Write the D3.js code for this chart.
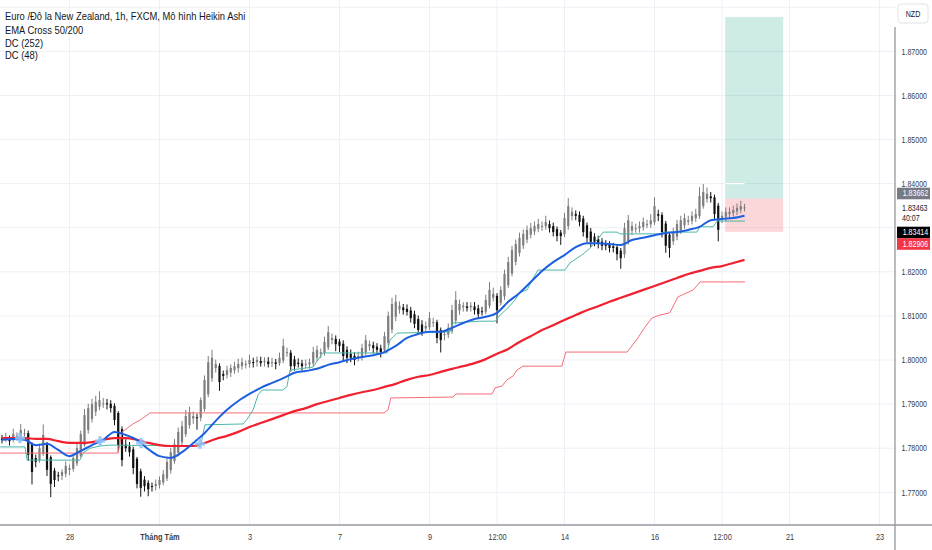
<!DOCTYPE html>
<html>
<head>
<meta charset="utf-8">
<script src="https://cdn.jsdelivr.net/npm/d3@7"></script>
<style>
  body { margin: 0; background: #fff; }
  svg { display: block; font-family: "Liberation Sans", Arial, sans-serif; }
</style>
</head>
<body>
<script>
// Heikin Ashi closes, 2h steps from Jul 26 12:00 (day 0 = Jul 28, trading days only)
const closes = [
  1.7819, 1.7825, 1.7816, 1.7832, 1.7828, 1.7841, 1.7834, 1.7785, 1.7746, 1.7769,
  1.7800, 1.7830, 1.7751, 1.7719, 1.7728, 1.7737, 1.7746, 1.7760, 1.7755, 1.7778,
  1.7800, 1.7832, 1.7875, 1.7891, 1.7900, 1.7905, 1.7909, 1.7902, 1.7900, 1.7891,
  1.7864, 1.7807, 1.7773, 1.7800, 1.7791, 1.7755, 1.7719, 1.7710, 1.7714, 1.7707,
  1.7714, 1.7719, 1.7728, 1.7741, 1.7769, 1.7791, 1.7809, 1.7837, 1.7850, 1.7873,
  1.7882, 1.7873, 1.7868, 1.7909, 1.7955, 1.7995, 1.8005, 1.7991, 1.7950, 1.7964,
  1.7977, 1.7982, 1.7986, 1.7991, 1.7995, 1.7991, 1.8000, 1.7995, 1.8000, 1.7993,
  1.7998, 1.7991, 1.7995, 1.7991, 1.8005, 1.8032, 1.8018, 1.7986, 1.7986, 1.7991,
  1.7986, 1.7991, 1.7995, 1.8018, 1.8023, 1.8018, 1.8041, 1.8063, 1.8050, 1.8036,
  1.8032, 1.8009, 1.8005, 1.8005, 1.8000, 1.8009, 1.8027, 1.8045, 1.8036, 1.8027,
  1.8023, 1.8018, 1.8054, 1.8100, 1.8127, 1.8132, 1.8123, 1.8113, 1.8109, 1.8095,
  1.8082, 1.8068, 1.8063, 1.8077, 1.8095, 1.8086, 1.8050, 1.8045, 1.8059, 1.8073,
  1.8113, 1.8136, 1.8127, 1.8123, 1.8118, 1.8123, 1.8113, 1.8104, 1.8109, 1.8136,
  1.8159, 1.8150, 1.8113, 1.8159, 1.8195, 1.8222, 1.8249, 1.8263, 1.8277, 1.8286,
  1.8295, 1.8299, 1.8304, 1.8308, 1.8304, 1.8313, 1.8299, 1.8290, 1.8281, 1.8281,
  1.8322, 1.8349, 1.8336, 1.8327, 1.8313, 1.8290, 1.8277, 1.8268, 1.8268, 1.8263,
  1.8259, 1.8259, 1.8254, 1.8254, 1.8240, 1.8231, 1.8299, 1.8317, 1.8304, 1.8299,
  1.8304, 1.8313, 1.8308, 1.8317, 1.8349, 1.8327, 1.8290, 1.8259, 1.8254, 1.8290,
  1.8308, 1.8317, 1.8322, 1.8317, 1.8327, 1.8331, 1.8372, 1.8381, 1.8377, 1.8367,
  1.8331, 1.8295, 1.8327, 1.8336, 1.8336, 1.8340, 1.8345, 1.8349, 1.8346
];
// wick beyond body, in pips
const wickHi = [
  8, 10, 6, 12, 8, 14, 10, 6, 4, 8,  10, 24, 6, 4, 6, 8, 6, 10, 8, 10,
  10, 8, 14, 10, 12, 14, 20, 12, 10, 8,  6, 4, 6, 12, 10, 6, 4, 6, 8, 6,
  8, 10, 8, 10, 12, 10, 12, 10, 12, 14,  12, 10, 8, 6, 10, 14, 18, 10, 6, 8,
  10, 8, 10, 12, 10, 8, 12, 10, 8, 10,  8, 10, 10, 8, 12, 16, 10, 6, 8, 10,
  8, 10, 8, 12, 10, 8, 12, 14, 10, 8,  6, 8, 8, 10, 8, 10, 10, 12, 8, 8,
  8, 8, 10, 10, 14, 16, 10, 8, 10, 8,  8, 8, 10, 10, 14, 10, 6, 6, 8, 10,
  12, 20, 10, 8, 10, 8, 10, 8, 10, 12,  18, 14, 6, 8, 10, 12, 10, 10, 12, 10,
  10, 12, 10, 12, 10, 14, 8, 8, 6, 6,  12, 18, 10, 8, 8, 6, 6, 8, 8, 8,
  8, 8, 8, 8, 6, 6, 12, 12, 10, 10,  10, 10, 10, 14, 20, 10, 6, 6, 6, 10,
  10, 10, 10, 10, 10, 12, 20, 18, 14, 10,  6, 6, 10, 10, 10, 10, 10, 12, 8
];
const wickLo = [
  8, 6, 10, 6, 8, 6, 8, 14, 28, 12,  6, 4, 14, 30, 16, 12, 10, 8, 12, 6,
  6, 4, 4, 8, 8, 10, 8, 10, 12, 10,  12, 16, 14, 8, 10, 14, 10, 20, 12, 16,
  12, 10, 8, 6, 6, 8, 6, 8, 8, 6,  8, 12, 26, 8, 6, 6, 8, 10, 20, 10,
  8, 10, 8, 10, 8, 10, 8, 12, 10, 8,  10, 8, 10, 12, 6, 6, 8, 12, 10, 8,
  10, 8, 10, 6, 8, 10, 6, 6, 10, 16,  14, 10, 12, 10, 12, 8, 8, 6, 10, 12,
  10, 12, 6, 6, 8, 10, 10, 10, 8, 10,  10, 10, 8, 8, 6, 10, 12, 28, 12, 8,
  6, 8, 10, 10, 8, 10, 10, 10, 8, 6,  6, 8, 30, 6, 8, 6, 6, 8, 8, 8,
  8, 8, 8, 8, 10, 8, 10, 10, 12, 20,  6, 8, 10, 10, 10, 10, 10, 12, 10, 10,
  10, 10, 10, 10, 14, 24, 8, 8, 10, 10,  10, 8, 8, 8, 6, 12, 12, 16, 22, 8,
  8, 8, 8, 8, 8, 8, 6, 6, 8, 10,  14, 26, 12, 10, 10, 8, 8, 8, 8
];
const haOpen0 = 1.7822;

// EMA 50 / EMA 200, sampled every 6h
const emaFast = [
  1.7819, 1.7821, 1.7819, 1.7807, 1.7810, 1.7796, 1.7782, 1.7794, 1.7807, 1.7819,
  1.7837, 1.7830, 1.7819, 1.7798, 1.7782, 1.7778, 1.7791, 1.7812, 1.7834, 1.7862,
  1.7887, 1.7907, 1.7923, 1.7937, 1.7948, 1.7959, 1.7971, 1.7975, 1.7980, 1.7989,
  1.7995, 1.8002, 1.8007, 1.8011, 1.8018, 1.8032, 1.8050, 1.8059, 1.8064, 1.8064,
  1.8073, 1.8084, 1.8093, 1.8098, 1.8107, 1.8132, 1.8152, 1.8177, 1.8202, 1.8222,
  1.8238, 1.8256, 1.8265, 1.8265, 1.8263, 1.8261, 1.8272, 1.8277, 1.8283, 1.8288,
  1.8290, 1.8295, 1.8302, 1.8317, 1.8320, 1.8322, 1.8327
];
const emaSlow = [
  1.7823, 1.7823, 1.7823, 1.7821, 1.7821, 1.7816, 1.7812, 1.7812, 1.7814, 1.7819,
  1.7823, 1.7823, 1.7819, 1.7812, 1.7807, 1.7805, 1.7805, 1.7805, 1.7812, 1.7821,
  1.7828, 1.7837, 1.7848, 1.7857, 1.7866, 1.7875, 1.7884, 1.7891, 1.7900, 1.7907,
  1.7914, 1.7921, 1.7927, 1.7932, 1.7939, 1.7946, 1.7955, 1.7962, 1.7966, 1.7973,
  1.7980, 1.7986, 1.7993, 1.8002, 1.8014, 1.8025, 1.8041, 1.8054, 1.8068, 1.8079,
  1.8091, 1.8102, 1.8113, 1.8122, 1.8132, 1.8141, 1.8150, 1.8159, 1.8168, 1.8177,
  1.8186, 1.8195, 1.8202, 1.8209, 1.8213, 1.8220, 1.8227
];

// Donchian lower bands (vertices: trading day, price)
const dc48Day = [-1.54, -0.99, -0.94, 0.23, 0.32, 0.46, 0.68, 0.90, 2.90, 2.94, 3.01, 3.86, 3.97,
  4.08, 4.19, 4.28, 4.74, 4.83, 4.90, 5.41, 5.52, 5.63, 7.06, 7.12, 7.28, 8.46, 8.52, 9.12, 9.46,
  9.57, 9.74, 9.90, 10.01, 10.17, 10.28, 10.41, 11.01, 11.12, 11.41, 11.57, 11.72, 11.86, 12.17,
  12.23, 13.12, 13.21, 13.94, 14.01, 14.30, 14.39, 15.01];
const dc48Val = [1.7803, 1.7803, 1.7773, 1.7773, 1.7791, 1.7800, 1.7805, 1.7807, 1.7805, 1.7819,
  1.7853, 1.7855, 1.7869, 1.7887, 1.7921, 1.7932, 1.7932, 1.7939, 1.7977, 1.7984, 1.8000, 1.8016,
  1.8016, 1.8045, 1.8061, 1.8064, 1.8084, 1.8088, 1.8088, 1.8102, 1.8118, 1.8136, 1.8154, 1.8159,
  1.8181, 1.8204, 1.8204, 1.8220, 1.8240, 1.8254, 1.8272, 1.8290, 1.8290, 1.8286, 1.8286, 1.8290,
  1.8290, 1.8302, 1.8302, 1.8315, 1.8315];
const dc252Day = [-1.54, 1.08, 1.17, 1.41, 1.57, 1.79, 6.99, 7.08, 7.14, 8.52, 8.59, 9.39, 9.46,
  9.61, 9.72, 9.86, 9.94, 10.08, 10.94, 11.03, 12.39, 12.50, 12.63, 12.79, 12.94, 13.12, 13.34,
  13.43, 13.52, 13.86, 13.94, 14.01, 15.01];
const dc252Val = [1.7789, 1.7789, 1.7837, 1.7855, 1.7864, 1.7880, 1.7880, 1.7887, 1.7914, 1.7916,
  1.7923, 1.7923, 1.7937, 1.7941, 1.7955, 1.7964, 1.7977, 1.7986, 1.7986, 1.8018, 1.8018, 1.8032,
  1.8050, 1.8075, 1.8095, 1.8102, 1.8107, 1.8125, 1.8143, 1.8159, 1.8168, 1.8177, 1.8177];

// EMA cross markers
const crossDay = [-1.1, 0.68, 1.59, 2.9];
const crossVal = [1.7823, 1.7816, 1.7812, 1.7810];

// long position tool
const posDays = [14.57, 15.86];
const posTarget = 1.8778, posEntry = 1.83662, posStop = 1.82906;

// axes
const gridTicks = [1.77, 1.78, 1.79, 1.80, 1.81, 1.82, 1.83, 1.84, 1.85, 1.86, 1.87, 1.88];
const priceTicks = [1.77, 1.78, 1.79, 1.80, 1.81, 1.82, 1.84, 1.85, 1.86, 1.87];
const dayTicks = [0, 2, 4, 6, 8, 9.5, 11, 13, 14.5, 16, 18];
const dayLabels = ["28", "Tháng Tám", "3", "7", "9", "12:00", "14", "16", "12:00", "21", "23"];
const legendLines = ["Euro /Đô la New Zealand, 1h, FXCM, Mô hình Heikin Ashi", "EMA Cross 50/200", "DC (252)", "DC (48)"];

const W = 932, H = 550;
const PLOT = { R: 895, B: 525 };
const CANDLE_START = -1.5, CANDLE_STEP = 1 / 12, LINE_STEP = 0.25;

const svg = d3.select("body").append("svg").attr("width", W).attr("height", H);

const x = d3.scaleLinear().domain([-1.5444, 18.3444]).range([0, PLOT.R]);
const y = d3.scaleLinear().domain([1.76259, 1.88163]).range([PLOT.B, 0]);

svg.append("clipPath").attr("id", "plot-clip")
  .append("rect").attr("width", PLOT.R).attr("height", PLOT.B);

const plot = svg.append("g").attr("clip-path", "url(#plot-clip)");

// grid
plot.append("g").selectAll("line").data(gridTicks).join("line")
  .attr("x1", 0).attr("x2", PLOT.R)
  .attr("y1", d => y(d)).attr("y2", d => y(d))
  .attr("stroke", "#edf0f6");
plot.append("g").selectAll("line").data(dayTicks).join("line")
  .attr("x1", d => x(d)).attr("x2", d => x(d))
  .attr("y1", 0).attr("y2", PLOT.B)
  .attr("stroke", "#edf0f6");

// position box
plot.append("rect")
  .attr("x", x(posDays[0])).attr("width", x(posDays[1]) - x(posDays[0]))
  .attr("y", y(posTarget)).attr("height", y(posEntry) - y(posTarget))
  .attr("fill", "rgba(8,153,129,0.2)");
plot.append("rect")
  .attr("x", x(posDays[0])).attr("width", x(posDays[1]) - x(posDays[0]))
  .attr("y", y(posEntry)).attr("height", y(posStop) - y(posEntry))
  .attr("fill", "rgba(242,54,69,0.2)");
plot.append("line")
  .attr("x1", x(posDays[0])).attr("x2", x(15.0))
  .attr("y1", y(1.84)).attr("y2", y(1.84))
  .attr("stroke", "#fff").attr("stroke-width", 1.2);

// heikin ashi candles
const candles = [];
let haOpen = haOpen0;
closes.forEach((c, i) => {
  if (i > 0) haOpen = (haOpen + closes[i - 1]) / 2;
  const top = Math.max(haOpen, c), bot = Math.min(haOpen, c);
  candles.push({
    day: CANDLE_START + i * CANDLE_STEP,
    open: haOpen, close: c,
    high: top + wickHi[i] * 1e-4,
    low: bot - wickLo[i] * 1e-4
  });
});

const candleColor = d => (d.close >= d.open ? "#7e7e7e" : "#111");
const cg = plot.append("g").selectAll("g").data(candles).join("g");
cg.append("line")
  .attr("x1", d => x(d.day)).attr("x2", d => x(d.day))
  .attr("y1", d => y(d.high)).attr("y2", d => y(d.low))
  .attr("stroke", candleColor).attr("stroke-width", 1);
cg.append("rect")
  .attr("x", d => x(d.day) - 1.1).attr("width", 2.2)
  .attr("y", d => y(Math.max(d.open, d.close)))
  .attr("height", d => Math.max(1, Math.abs(y(d.open) - y(d.close))))
  .attr("fill", candleColor);

// indicator lines
const line = d3.line().x(d => x(d[0])).y(d => y(d[1]));
const zip = (days, vals) => days.map((d, i) => [d, vals[i]]);
const sampled = vals => vals.map((v, k) => [CANDLE_START + k * LINE_STEP, v]);

plot.append("path").datum(zip(dc252Day, dc252Val))
  .attr("d", line).attr("fill", "none").attr("stroke", "#f66d78").attr("stroke-width", 1);
plot.append("path").datum(zip(dc48Day, dc48Val))
  .attr("d", line).attr("fill", "none").attr("stroke", "#4db6a8").attr("stroke-width", 1);
plot.append("path").datum(sampled(emaSlow))
  .attr("d", line.curve(d3.curveMonotoneX)).attr("fill", "none")
  .attr("stroke", "#f0202f").attr("stroke-width", 2.2);
plot.append("path").datum(sampled(emaFast))
  .attr("d", line.curve(d3.curveMonotoneX)).attr("fill", "none")
  .attr("stroke", "#1c5fe0").attr("stroke-width", 2);

plot.append("g").selectAll("path").data(zip(crossDay, crossVal)).join("path")
  .attr("transform", d => `translate(${x(d[0])},${y(d[1])})`)
  .attr("d", d3.symbol(d3.symbolCross, 55))
  .attr("fill", "#8fc3f7").attr("opacity", 0.9);

// axes
svg.append("line").attr("x1", 0).attr("x2", W).attr("y1", PLOT.B).attr("y2", PLOT.B)
  .attr("stroke", "#9598a1").attr("stroke-width", 1.3);
svg.append("line").attr("x1", PLOT.R).attr("x2", PLOT.R).attr("y1", 27).attr("y2", H)
  .attr("stroke", "#9598a1").attr("stroke-width", 1.3);

const yAxis = svg.append("g").attr("transform", `translate(${PLOT.R},0)`)
  .call(d3.axisRight(y).tickValues(priceTicks)
    .tickFormat(d3.format(".5f")).tickSize(0).tickPadding(8))
  .call(g => g.select(".domain").remove());
yAxis.selectAll("text")
  .attr("font-size", 8.6).attr("fill", "#3a3d46")
  .attr("font-family", "'Liberation Sans', Arial, sans-serif")
  .attr("transform", "scale(0.82,1)");

const xAxis = svg.append("g").attr("transform", `translate(0,${PLOT.B})`)
  .call(d3.axisBottom(x).tickValues(dayTicks)
    .tickFormat((d, i) => dayLabels[i]).tickSize(0).tickPadding(9))
  .call(g => g.select(".domain").remove());
xAxis.selectAll("text")
  .attr("font-size", 9).attr("fill", "#3a3d46")
  .attr("font-family", "'Liberation Sans', Arial, sans-serif")
  .attr("font-weight", (d, i) => (dayLabels[i] === "Tháng Tám" ? "bold" : null))
  .attr("transform", "scale(0.82,1)");

// price badges on the right scale
const badges = [
  { label: "1.83662", bg: "#787b86", cy: 193.5 },
  { label: "1.83414", bg: "#000000", cy: 232.5 },
  { label: "1.82906", bg: "#f23645", cy: 244 }
];
const bg = svg.append("g").selectAll("g").data(badges).join("g")
  .attr("transform", d => `translate(${PLOT.R + 2},${d.cy})`);
bg.append("rect").attr("x", 0).attr("y", -5.8).attr("width", 33).attr("height", 11.6)
  .attr("fill", d => d.bg);
bg.append("text").text(d => d.label)
  .attr("x", 7).attr("dy", "0.34em")
  .attr("font-size", 8.6).attr("fill", "#fff")
  .attr("transform", "scale(0.82,1)");

svg.append("text").text("1.83463")
  .attr("transform", `translate(${PLOT.R + 7},211) scale(0.82,1)`)
  .attr("font-size", 8.6).attr("fill", "#131722");
svg.append("text").text("40:07")
  .attr("transform", `translate(${PLOT.R + 7},221) scale(0.82,1)`)
  .attr("font-size", 8.6).attr("fill", "#131722");

// currency button
svg.append("rect").attr("x", 898).attr("y", 4).attr("width", 30).attr("height", 19)
  .attr("rx", 3).attr("fill", "#fff").attr("stroke", "#e0e3eb");
svg.append("text").text("NZD")
  .attr("transform", "translate(913,16.5) scale(0.82,1)")
  .attr("text-anchor", "middle").attr("font-size", 8.6).attr("fill", "#131722");

// legend
svg.append("g").selectAll("text").data(legendLines).join("text")
  .text(d => d)
  .attr("transform", (d, i) => `translate(5,${[20, 34, 47, 59][i]}) scale(0.94,1)`)
  .attr("font-size", 10).attr("fill", "#131722");
</script>
</body>
</html>
